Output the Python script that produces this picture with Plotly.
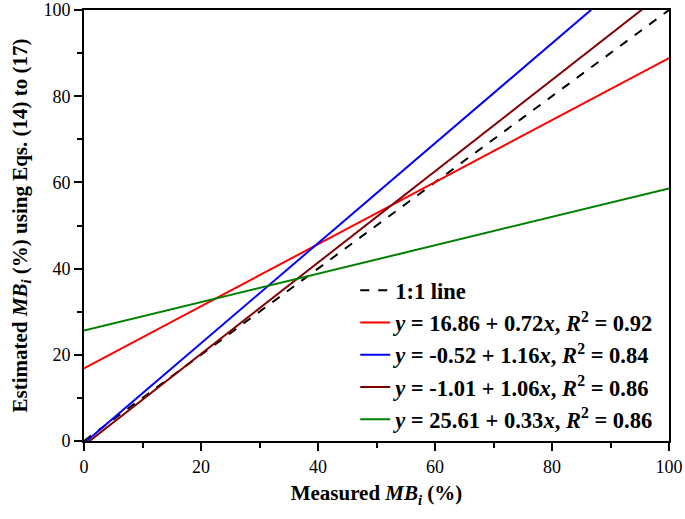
import plotly.graph_objects as go

series_names = [
    "<b><i>y</i> = 16.86 + 0.72<i>x</i>, <i>R</i><sup>2</sup> = 0.92</b>",
    "<b><i>y</i> = -0.52 + 1.16<i>x</i>, <i>R</i><sup>2</sup> = 0.84</b>",
    "<b><i>y</i> = -1.01 + 1.06<i>x</i>, <i>R</i><sup>2</sup> = 0.86</b>",
    "<b><i>y</i> = 25.61 + 0.33<i>x</i>, <i>R</i><sup>2</sup> = 0.86</b>",
]
intercepts = [16.86, -0.52, -1.01, 25.61]
slopes = [0.72, 1.16, 1.06, 0.33]
colors = ["#FF0000", "#0000FF", "#800000", "#008000"]
x_ends = [0, 100]
one_to_one = [0, 100]

FONT = "Liberation Serif, Times New Roman, serif"

fig = go.Figure()
fig.add_trace(go.Scatter(x=one_to_one, y=one_to_one, mode="lines",
                         name="<b>1:1 line</b>",
                         line=dict(color="black", width=2, dash="dash")))
for name, b, m, c in zip(series_names, intercepts, slopes, colors):
    fig.add_trace(go.Scatter(x=x_ends, y=[b + m * xv for xv in x_ends], mode="lines",
                             name=name, line=dict(color=c, width=2)))

axis_common = dict(
    range=[0, 100], showgrid=False, zeroline=False, automargin=False,
    showline=True, linecolor="black", linewidth=2, mirror=True,
    ticks="outside", ticklen=8, tickwidth=1.5, tickcolor="black",
    dtick=20, tick0=0,
    minor=dict(ticks="outside", ticklen=5, tickwidth=1.5, tickcolor="black", dtick=10),
    tickfont=dict(family=FONT, size=18, color="black"),
)

fig.update_layout(
    width=685, height=519,
    margin=dict(l=84, r=16, t=10, b=78),
    paper_bgcolor="white", plot_bgcolor="white",
    font=dict(family=FONT, color="black"),
    showlegend=True,
    legend=dict(x=0.985, xanchor="right", y=0.0, yanchor="bottom",
                bgcolor="rgba(0,0,0,0)", font=dict(family=FONT, size=22.5, color="black"),
                tracegroupgap=0, itemwidth=30),
    xaxis=dict(**axis_common,
               title=dict(text="<b>Measured <i>MB<sub>i</sub></i> (%)</b>",
                          font=dict(family=FONT, size=21, color="black"), standoff=10)),
    yaxis=dict(**axis_common,
               title=dict(text="<b>Estimated <i>MB<sub>i</sub></i> (%) using Eqs. (14) to (17)</b>",
                          font=dict(family=FONT, size=21, color="black"), standoff=10)),
)

fig.write_html("out.html", config={"displayModeBar": False},
               post_script="document.body.style.margin='0';")
